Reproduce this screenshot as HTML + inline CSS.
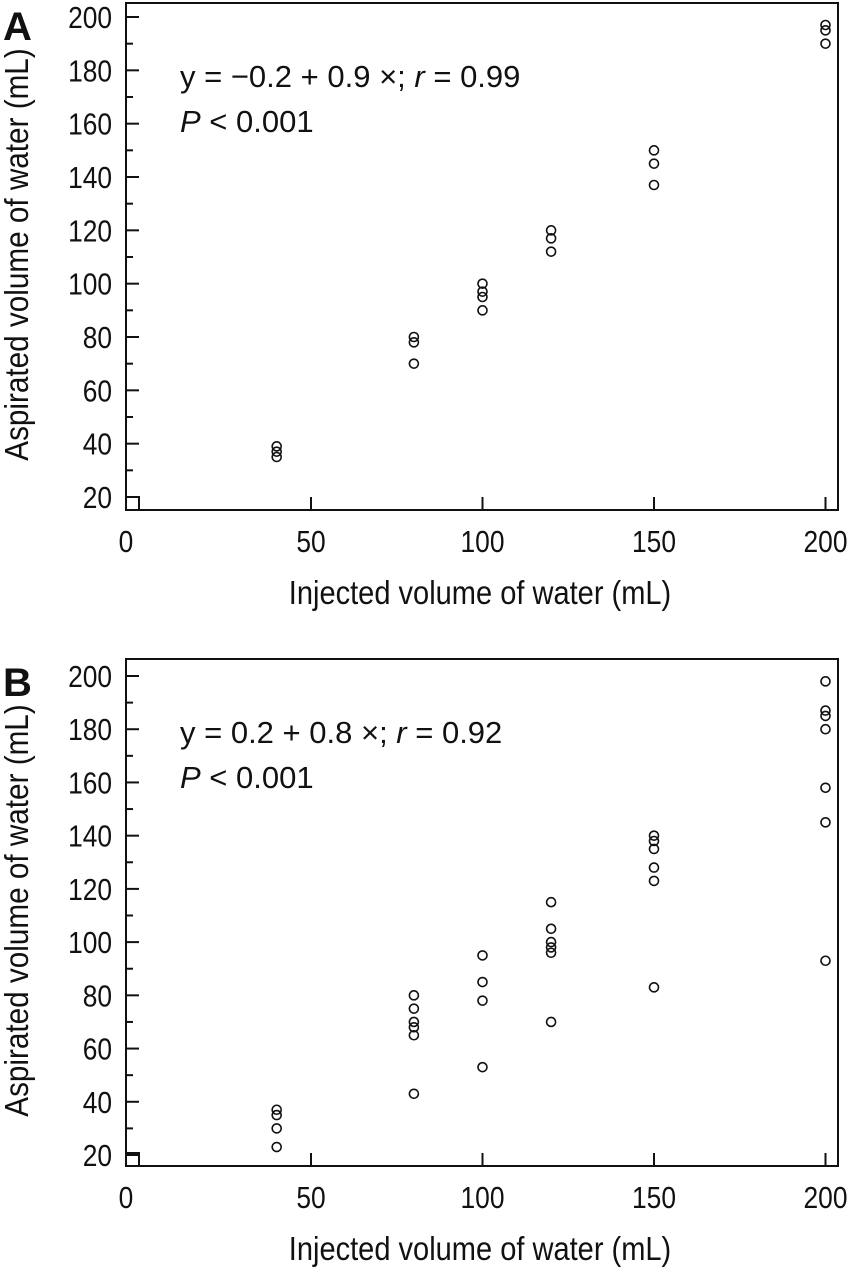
<!DOCTYPE html>
<html><head><meta charset="utf-8"><style>
body{margin:0;background:#fff;width:860px;height:1267px;overflow:hidden}
text{font-family:"Liberation Sans",sans-serif;fill:#111}
</style></head><body>
<svg id="chart" width="860" height="1267" xmlns="http://www.w3.org/2000/svg"></svg>
<script>
const xTicks=[50,100,150,200];
const yTicks=[20,40,60,80,100,120,140,160,180,200];
const catsA=[40,80,100,120,150,200];
const valsA=[[39,37,35],[80,78,70],[100,97,95,90],[120,117,112],[150,145,137],[197,195,190]];
const catsB=[40,80,100,120,150,200];
const valsB=[[37,35,30,23],[80,75,70,68,65,43],[95,85,78,53],[115,105,100,98,96,70],[140,138,135,128,123,83],[198,187,185,180,158,145,93]];
const NS="http://www.w3.org/2000/svg";
const svg=document.getElementById('chart');
function mk(tag,attrs,parent){const e=document.createElementNS(NS,tag);for(const k in attrs)e.setAttribute(k,attrs[k]);(parent||svg).appendChild(e);return e;}
function txt(parent,x,y,size,anchor,sx,rot){
  let tf=`translate(${x},${y})`+(rot?` rotate(${rot})`:'')+` scale(${sx},1)`;
  return mk('text',{x:0,y:0,'font-size':size,'text-anchor':anchor,transform:tf},parent);
}
function panel(letter,top,y20,y200,cats,vals,eq){
  const g=mk('g',{});
  
  
  const L=126,R=838,B=top+507;
  const xs=v=>311+(v-50)*3.43;
  const ys=v=>y20+(v-20)*(y200-y20)/180;
  const box=mk('rect',{x:L,y:top,width:R-L,height:B-top,fill:'none',stroke:'#111','stroke-width':2},g);
  
  
  mk('rect',{x:L,y:B-13,width:13,height:13,fill:'none',stroke:'#111','stroke-width':2},g);
  const t0=txt(g,L,B+42,31,'middle',0.85);t0.textContent='0';
  
  
  xTicks.forEach(v=>{
    mk('line',{x1:xs(v),x2:xs(v),y1:B,y2:B-13,stroke:'#111','stroke-width':2},g);
    const t=txt(g,xs(v),B+42,31,'middle',0.85);t.textContent=v;
    
    
  });
  yTicks.forEach(v=>{
    mk('line',{x1:L,x2:L+13,y1:ys(v),y2:ys(v),stroke:'#111','stroke-width':2},g);
    if(v<200)mk('line',{x1:L,x2:L+7,y1:ys(v+10),y2:ys(v+10),stroke:'#111','stroke-width':2},g);
    const t=txt(g,L-14,ys(v)+11,31,'end',0.85);t.textContent=v;
    
    
  });
  cats.forEach((c,i)=>vals[i].forEach(v=>{
    const p=mk('circle',{cx:xs(c),cy:ys(v),r:4.5,fill:'none',stroke:'#111','stroke-width':1.6},g);
    
    
  }));
  const xt=txt(g,480,B+94,33,'middle',0.88);xt.textContent='Injected volume of water (mL)';
  
  
  const yt=txt(g,28,(top+B)/2-2,33,'middle',0.9,-90);yt.textContent='Aspirated volume of water (mL)';
  
  
  const pl=mk('text',{x:3,y:top+37,'font-size':40,'font-weight':'bold'},g);pl.textContent=letter;
  
  
  const e1=txt(g,180,top+84,31,'start',1);e1.innerHTML=eq;
  
  
  const e2=txt(g,180,top+129,31,'start',1);e2.innerHTML='<tspan font-style="italic">P</tspan> &lt; 0.001';
  
  
}
panel('A',3,497,17,catsA,valsA,'y = −0.2 + 0.9 ×; <tspan font-style="italic">r</tspan> = 0.99');
panel('B',659,1155,676,catsB,valsB,'y = 0.2 + 0.8 ×; <tspan font-style="italic">r</tspan> = 0.92');
</script>
</body></html>
